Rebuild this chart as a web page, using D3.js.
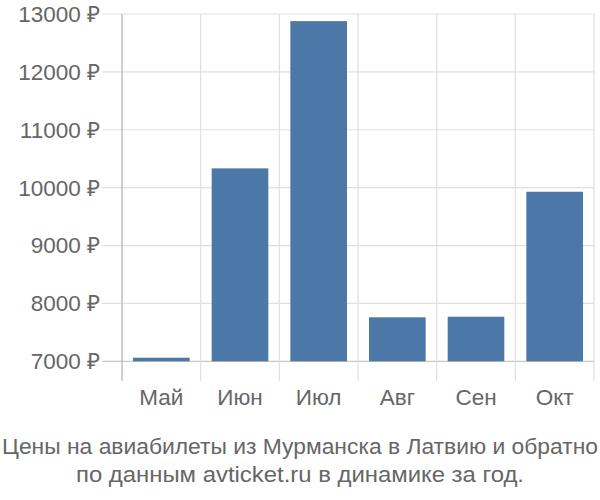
<!DOCTYPE html>
<html><head><meta charset="utf-8">
<script src="https://cdn.jsdelivr.net/npm/d3@7"></script>
<style>body{margin:0;background:#fff}</style>
</head><body>
<svg id="c" width="600" height="500"></svg>
<script>
const categories = ["Май","Июн","Июл","Авг","Сен","Окт"];
const values = [7062, 10333, 12877, 7760, 7770, 9929];
const yTicks = [7000, 8000, 9000, 10000, 11000, 12000, 13000];
const titleLines = ["Цены на авиабилеты из Мурманска в Латвию и обратно","по данным avticket.ru в динамике за год."];

(function(){
const svg = d3.select("#c");
const pL = 122, pR = 594, pT = 14, pBase = 361.3, pBottom = 381;
const y = d3.scaleLinear().domain([7000, 13000]).range([pBase, pT]);
const x = d3.scaleBand().domain(categories).range([pL, pR]).paddingInner(0.28).paddingOuter(0.14);
const xg = d3.scaleBand().domain(categories).range([pL, pR]);

svg.append("g").selectAll("line").data(yTicks).join("line")
  .attr("x1", 102).attr("x2", pR).attr("y1", d => y(d)).attr("y2", d => y(d))
  .attr("stroke", d => d === 7000 ? "#c8c8c8" : "#e0e0e0").attr("stroke-width", 1.2);
svg.append("g").selectAll("line").data(categories.slice(1).map(c => xg(c)).concat([pR])).join("line")
  .attr("x1", d => d).attr("x2", d => d).attr("y1", pT).attr("y2", pBottom)
  .attr("stroke", "#e0e0e0").attr("stroke-width", 1.2);
svg.append("line").attr("x1", pL).attr("x2", pL).attr("y1", pT).attr("y2", pBottom)
  .attr("stroke", "#b0b0b0").attr("stroke-width", 1.2);

svg.append("g").selectAll("rect").data(values).join("rect")
  .attr("x", (d, i) => x(categories[i])).attr("width", x.bandwidth())
  .attr("y", d => y(d)).attr("height", d => y(7000) - y(d))
  .attr("fill", "#4c78a8");

svg.append("g").selectAll("text").data(yTicks).join("text")
  .attr("x", 100).attr("y", d => y(d)).attr("dy", "0.35em")
  .attr("text-anchor", "end").attr("fill", "#666")
  .style("font-family", "'Liberation Sans', Arial, sans-serif").style("font-size", "22.5px")
  .text(d => d + " ₽");
svg.append("g").selectAll("text").data(categories).join("text")
  .attr("x", d => xg(d) + xg.bandwidth()/2).attr("y", 405)
  .attr("text-anchor", "middle").attr("fill", "#666")
  .style("font-family", "'Liberation Sans', Arial, sans-serif").style("font-size", "22.5px")
  .text(d => d);
const tl = [596, 448];
svg.append("g").selectAll("text").data(titleLines).join("text")
  .attr("x", 300).attr("y", (d, i) => 454 + i * 27.5)
  .attr("text-anchor", "middle").attr("fill", "#666")
  .attr("textLength", (d, i) => tl[i]).attr("lengthAdjust", "spacingAndGlyphs")
  .style("font-family", "'Liberation Sans', Arial, sans-serif").style("font-size", "22px")
  .text(d => d);
})();
</script>
</body></html>
